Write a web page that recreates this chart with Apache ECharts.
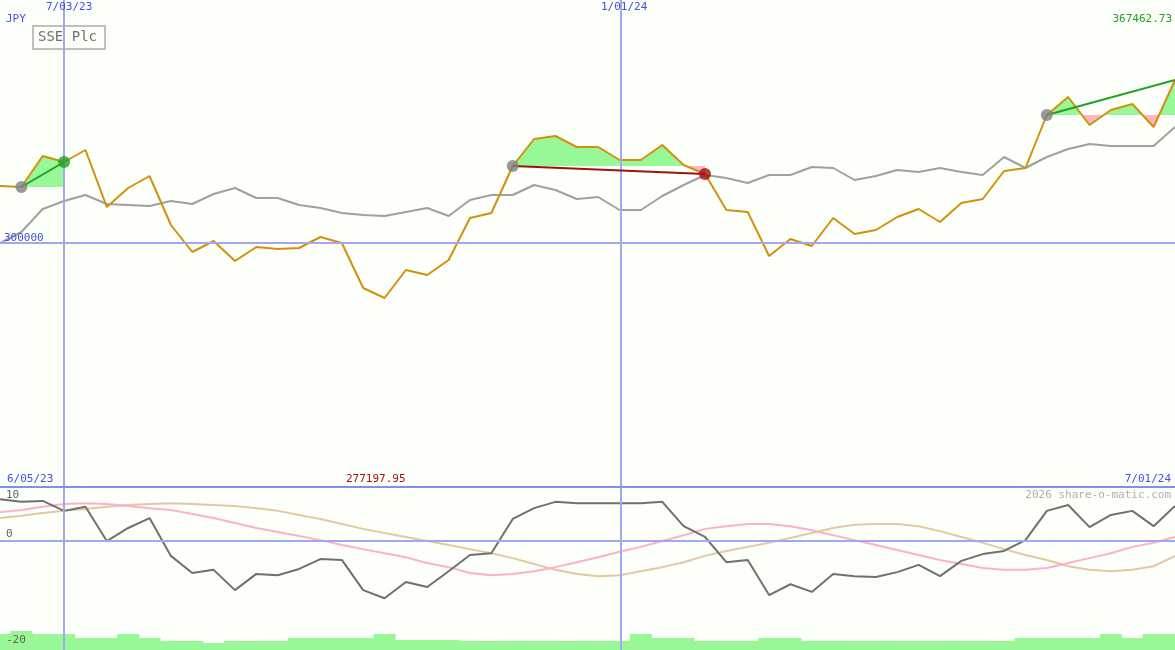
<!DOCTYPE html><html><head><meta charset="utf-8"><script src="https://cdn.jsdelivr.net/npm/echarts@6/dist/echarts.min.js"></script>
<style>body{margin:0;background:#fdfffb}#c{width:1175px;height:650px}</style></head><body><div id="c"></div><script>
const price=[305700,305600,308700,308100,309300,303600,305500,306700,301800,299100,300200,298200,299600,299400,299500,300600,300000,295500,294500,297300,296800,298300,302500,303000,307700,310400,310700,309600,309600,308300,308300,309800,307800,306900,303300,303100,298700,300400,299700,302500,300900,301300,302600,303400,302100,304000,304400,307200,307500,312800,314600,311800,313300,313900,311600,316300];
const avg=[300000,301100,303400,304200,304800,303900,303800,303700,304200,303900,304900,305500,304500,304500,303800,303500,303000,302800,302700,303100,303500,302700,304300,304800,304800,305800,305300,304400,304600,303300,303300,304700,305800,306800,306500,306000,306800,306800,307600,307500,306300,306700,307300,307100,307500,307100,306800,308600,307500,308600,309400,309900,309700,309700,309700,311600];
const osc=[9.3,8.7,8.9,6.7,7.6,0,2.9,5.1,-3.3,-7.1,-6.4,-10.9,-7.3,-7.6,-6.2,-4.0,-4.2,-10.9,-12.7,-9.1,-10.2,-6.7,-3.1,-2.7,4.9,7.3,8.7,8.4,8.4,8.4,8.4,8.7,3.3,0.9,-4.7,-4.2,-12.0,-9.6,-11.3,-7.3,-7.8,-8.0,-6.9,-5.3,-7.8,-4.4,-2.9,-2.2,0.2,6.7,8.0,3.1,5.8,6.7,3.3,7.8];
const pinkLine=[6.4,6.9,7.6,8.2,8.4,8.2,7.8,7.3,6.9,6.0,5.1,4.0,2.9,2.0,1.1,0.2,-0.9,-1.8,-2.7,-3.6,-4.9,-5.8,-7.1,-7.6,-7.3,-6.7,-5.8,-4.7,-3.6,-2.4,-1.3,0,1.3,2.7,3.3,3.8,3.8,3.3,2.4,1.3,0.2,-0.9,-2.0,-3.1,-4.2,-5.1,-6.0,-6.4,-6.4,-6.0,-4.9,-3.8,-2.7,-1.3,-0.4,0.9];
const tanLine=[5.1,5.6,6.2,6.7,7.1,7.6,8.0,8.2,8.4,8.2,8.0,7.8,7.3,6.7,5.8,4.9,3.8,2.7,1.8,0.9,0,-0.9,-1.8,-2.7,-3.8,-5.1,-6.4,-7.3,-7.8,-7.6,-6.7,-5.8,-4.7,-3.3,-2.2,-1.3,-0.4,0.7,1.8,2.9,3.6,3.8,3.8,3.3,2.2,0.9,-0.4,-1.8,-3.1,-4.2,-5.6,-6.4,-6.7,-6.4,-5.6,-3.3];
const volume=[16,19,16,16,12,12,16,12,9,9,7,9,9,9,12,12,12,12,16,10,10,10,9,9,9,9,9,9,9,9,16,12,12,9,9,9,12,12,9,9,9,9,9,9,9,9,9,9,12,12,12,12,16,12,16,16];
const segments=[[1,3,'#22a022'],[24,33,'#a01010'],[49,55,'#22a022']];
const dateMarks=[[3,'7/03/23'],[29.07,'1/01/24']];
const n=price.length;
const series=[];
// fill polygons between price and segment baseline
function fillPolys(s,api,sign){
  const b=price[s[0]];const pts=[];
  for(let i=s[0];i<=s[1];i++){
    const d=(price[i]-b)*sign;
    if(i>s[0]){const dp=(price[i-1]-b)*sign;
      if((dp>0&&d<0)||(dp<0&&d>0)){const t=dp/(dp-d);pts.push([i-1+t,b]);}}
    pts.push([i,d>0?price[i]:b]);
  }
  const poly=pts.map(p=>api.coord(p));
  poly.push(api.coord([s[1],b]));poly.push(api.coord([s[0],b]));
  return poly;
}
segments.forEach(s=>{
  series.push({type:'custom',data:[[s[0],price[s[0]]]],z:1,silent:true,
    renderItem:(params,api)=>({type:'group',children:[
      {type:'polygon',shape:{points:fillPolys(s,api,1)},style:{fill:'#98f898'}},
      {type:'polygon',shape:{points:fillPolys(s,api,-1)},style:{fill:'#ffb6c1'}}]})});
});
series.push({type:'line',data:avg.map((v,i)=>[i,v]),symbol:'none',lineStyle:{color:'#a0a0a0',width:2},z:3});
series.push({type:'line',data:price.map((v,i)=>[i,v]),symbol:'none',lineStyle:{color:'#d4900a',width:2},z:4,
  markLine:{silent:true,symbol:'none',label:{show:false},lineStyle:{color:'#a0a8f0',width:2,type:'solid'},data:[{yAxis:300000},...dateMarks.map(d=>({xAxis:d[0]}))]}});
segments.forEach(s=>{
  series.push({type:'line',z:5,data:[[s[0],price[s[0]]],[s[1],price[s[1]]]],symbol:'none',lineStyle:{color:s[2],width:2}});
  series.push({type:'scatter',z:6,data:[[s[0],price[s[0]]]],symbolSize:12,itemStyle:{color:'#808080'}});
  if(s[1]<n-1)series.push({type:'scatter',z:6,data:[[s[1],price[s[1]]]],symbolSize:12,itemStyle:{color:s[2]}});
});
series.push({type:'bar',xAxisIndex:2,yAxisIndex:2,data:volume.map((v,i)=>[i,v]),barWidth:22,itemStyle:{color:'#98f898'}});
series.push({type:'line',xAxisIndex:1,yAxisIndex:1,data:tanLine.map((v,i)=>[i,v]),symbol:'none',lineStyle:{color:'#e2c9a0',width:2}});
series.push({type:'line',xAxisIndex:1,yAxisIndex:1,data:pinkLine.map((v,i)=>[i,v]),symbol:'none',lineStyle:{color:'#ffb0c8',width:2}});
series.push({type:'line',xAxisIndex:1,yAxisIndex:1,data:osc.map((v,i)=>[i,v]),symbol:'none',lineStyle:{color:'#707070',width:2},
  markLine:{silent:true,symbol:'none',label:{show:false},lineStyle:{color:'#a0a8f0',width:2,type:'solid'},data:[{yAxis:0},...dateMarks.map(d=>({xAxis:d[0]}))]}});
const ax=(gi)=>({type:'value',gridIndex:gi,min:0,max:n-1,show:false});
const F='DejaVu Sans Mono';
const txt=(x,y,t,c,align)=>({type:'text',left:align==='r'?null:x,right:align==='r'?x:null,top:y,style:{text:t,fill:c,font:'11px '+F},z:100});
const chart=echarts.init(document.getElementById('c'));
chart.setOption({backgroundColor:'#fdfffb',animation:false,
 grid:[{left:0,right:0,top:0,height:487},{left:0,right:0,top:487,height:163},{left:0,right:0,top:487,height:163}],
 xAxis:[ax(0),ax(1),ax(2)],
 yAxis:[{type:'value',gridIndex:0,min:275600,max:324300,show:false},{type:'value',gridIndex:1,min:-24.2,max:12,show:false},{type:'value',gridIndex:2,min:0,max:163,show:false}],
 series,
 graphic:[
  {type:'rect',shape:{x:0,y:486,width:1175,height:2},style:{fill:'#8090e8'},z:90},
  txt(46,2,dateMarks[0][1],'#4050e0'),txt(601,2,dateMarks[1][1],'#4050e0'),
  txt(6,14,'JPY','#4050e0'),txt(3,14,'367462.73','#20a020','r'),
  {type:'group',left:32,top:25,z:100,children:[{type:'rect',shape:{x:0,y:0,width:72,height:23},style:{fill:'#fdfffb',stroke:'#c0c0c0',lineWidth:2}},{type:'text',x:5,y:4,style:{text:'SSE Plc',fill:'#707070',font:'14px '+F}}]},
  txt(4,233,'300000','#4050e0'),
  txt(7,474,'6/05/23','#4050e0'),txt(346,474,'277197.95','#a01010'),txt(4,474,'7/01/24','#4050e0','r'),
  txt(4,490,'2026 share-o-matic.com','#b0b0b0','r'),
  txt(6,490,'10','#606060'),txt(6,529,'0','#606060'),txt(6,635,'-20','#606060')
 ]});
</script></body></html>
